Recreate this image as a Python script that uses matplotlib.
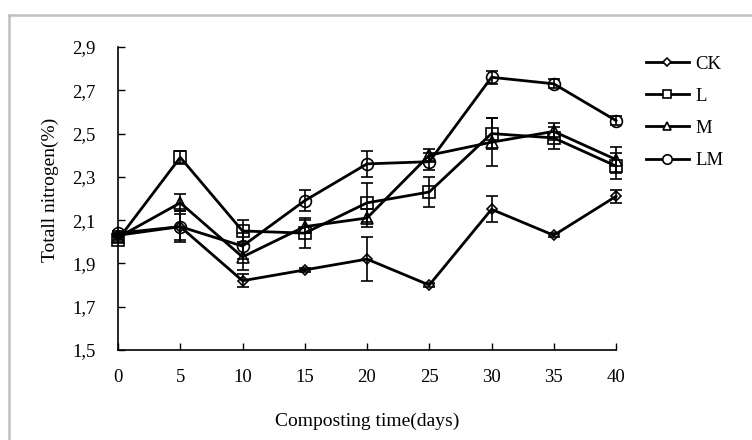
import matplotlib
matplotlib.use("Agg")
import matplotlib.pyplot as plt
from matplotlib.lines import Line2D

days = [0, 5, 10, 15, 20, 25, 30, 35, 40]
ck = [2.03, 2.07, 1.82, 1.87, 1.92, 1.80, 2.15, 2.03, 2.21]
ck_err = [0.01, 0.06, 0.03, 0.01, 0.10, 0.01, 0.06, 0.01, 0.03]
l = [2.01, 2.39, 2.05, 2.04, 2.18, 2.23, 2.50, 2.48, 2.35]
l_err = [0.01, 0.03, 0.05, 0.07, 0.09, 0.07, 0.07, 0.05, 0.06]
m = [2.02, 2.18, 1.93, 2.07, 2.11, 2.40, 2.46, 2.51, 2.38]
m_err = [0.01, 0.04, 0.06, 0.03, 0.04, 0.03, 0.11, 0.04, 0.06]
lm = [2.04, 2.07, 1.98, 2.19, 2.36, 2.37, 2.76, 2.73, 2.56]
lm_err = [0.01, 0.07, 0.06, 0.05, 0.06, 0.04, 0.03, 0.02, 0.02]

series = [("CK", ck, ck_err, "D", 5), ("L", l, l_err, "s", 8),
          ("M", m, m_err, "^", 8), ("LM", lm, lm_err, "o", 8.5)]

plt.rcParams['font.family'] = ['Liberation Serif', 'DejaVu Serif']

W, H = 752, 440
fig = plt.figure(figsize=(W / 100, H / 100), dpi=100)
# partial grey frame (top and left edges)
fig.add_artist(Line2D([9 / W, 1.0], [1 - 15 / H, 1 - 15 / H], transform=fig.transFigure,
                      color='#c0c0c0', linewidth=1.8))
fig.add_artist(Line2D([9 / W, 9 / W], [0.0, 1 - 15 / H], transform=fig.transFigure,
                      color='#c0c0c0', linewidth=1.8))

ax = fig.add_axes([118 / W, 1 - 350 / H, (616 - 118) / W, (350 - 47) / H])

for name, y, e, mk, ms in series:
    ax.errorbar(days, y, yerr=e, color='black', linewidth=2.0, marker=mk,
                markersize=ms, markerfacecolor='none', markeredgecolor='black',
                markeredgewidth=1.2, ecolor='black', elinewidth=1.2, capsize=4,
                capthick=1.2, clip_on=False)

ax.set_xlim(0, 40)
ax.set_ylim(1.5, 2.9)
ax.set_xticks(days)
yt = [1.5, 1.7, 1.9, 2.1, 2.3, 2.5, 2.7, 2.9]
ax.set_yticks(yt)
ax.set_yticklabels([f"{v:.1f}".replace('.', ',') for v in yt])
ax.tick_params(direction='in', length=5, width=1, labelsize=13.5)
ax.tick_params(axis='x', pad=14)
ax.tick_params(axis='y', pad=16)
for s in ['top', 'right']:
    ax.spines[s].set_visible(False)
for s in ['left', 'bottom']:
    ax.spines[s].set_linewidth(1.2)

ax.set_xlabel("Composting time(days)", fontsize=14, labelpad=19)
ax.set_ylabel("Totall nitrogen(%)", fontsize=14)
ax.yaxis.set_label_coords(-0.118, 0.53)

handles = [Line2D([], [], color='black', linewidth=2.0, marker=mk,
                  markersize=ms * 0.8, markerfacecolor='white', markeredgecolor='black',
                  markeredgewidth=1.2) for name, y, e, mk, ms in series]
fig.legend(handles=handles, labels=[s[0] for s in series],
           loc='upper left', bbox_to_anchor=(640 / W, 1 - 50 / H), frameon=False,
           fontsize=13.5, handlelength=2.3, labelspacing=0.8, handletextpad=0.35,
           borderaxespad=0, borderpad=0.3)

fig.savefig("out.png", dpi=100)
